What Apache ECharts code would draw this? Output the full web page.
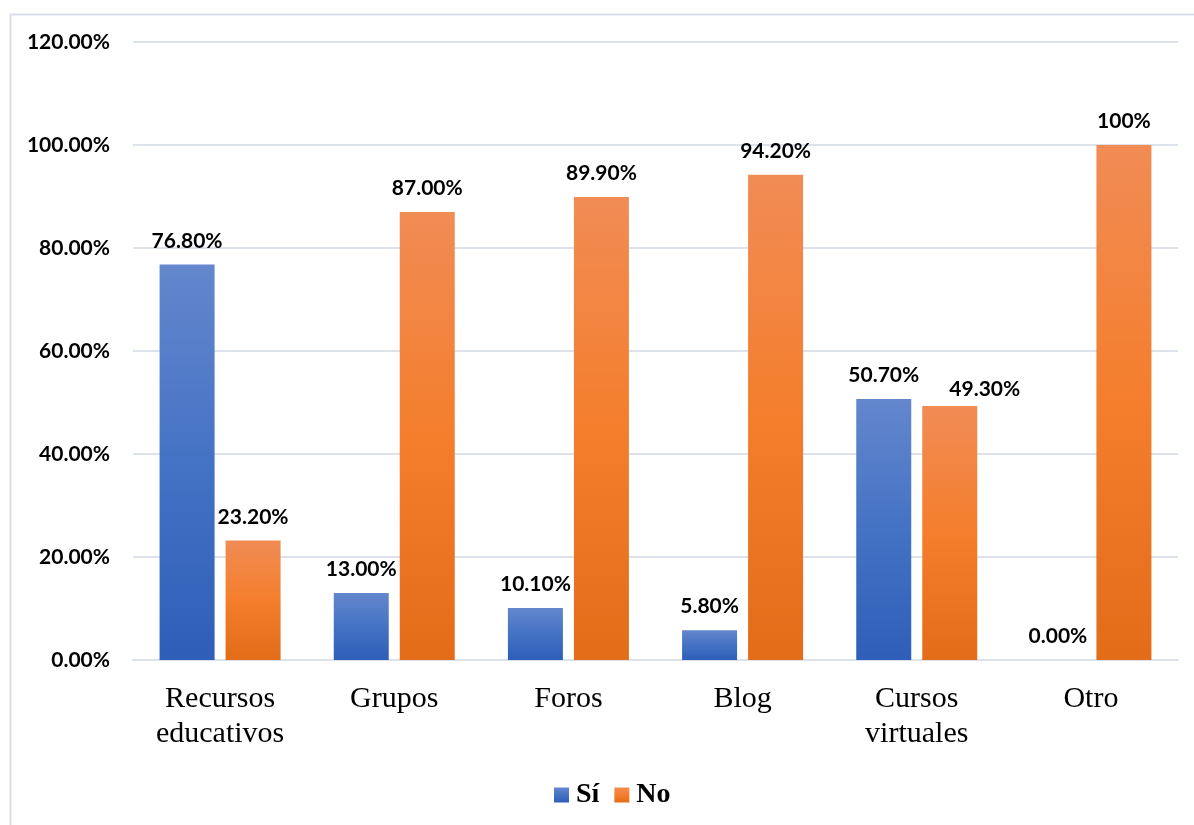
<!DOCTYPE html>
<html>
<head>
<meta charset="utf-8">
<title>Uso de recursos</title>
<script src="https://cdn.jsdelivr.net/npm/echarts@6/dist/echarts.min.js"></script>
<style>
  html, body { margin: 0; padding: 0; background: #ffffff; }
  #chart { width: 1194px; height: 825px; }
</style>
</head>
<body>
<div id="chart"></div>
<script>
// Categories and series values (percent)
const categories = ['Recursos\neducativos', 'Grupos', 'Foros', 'Blog', 'Cursos\nvirtuales', 'Otro'];
const siValues = [76.8, 13.0, 10.1, 5.8, 50.7, 0.0];
const noValues = [23.2, 87.0, 89.9, 94.2, 49.3, 100];
const yTicks = { min: 0, max: 120, interval: 20 };

const grad = (top, mid, bottom) => new echarts.graphic.LinearGradient(0, 0, 0, 1, [
  { offset: 0, color: top },
  { offset: 0.5, color: mid },
  { offset: 1, color: bottom }
]);

const pctLabel = p => (p.value === 100 ? '100%' : p.value.toFixed(2) + '%');

const labelStyle = {
  show: true,
  position: 'top',
  distance: 13,
  formatter: pctLabel,
  fontFamily: 'Lato, "Liberation Sans", sans-serif',
  fontWeight: 'bold',
  fontSize: 21,
  color: '#000000'
};

// The "No" label of "Cursos virtuales" is nudged aside so it clears its neighbour
const noData = noValues.map((v, i) => (i === 4 ? { value: v, label: { offset: [35, 7] } } : v));

const chart = echarts.init(document.getElementById('chart'), null, { renderer: 'canvas' });
chart.setOption({
  animation: false,
  backgroundColor: '#ffffff',
  graphic: [{
    type: 'rect',
    left: 8, top: 12,
    shape: { width: 1220, height: 830 },
    style: { fill: 'none', stroke: '#D9DEE8', lineWidth: 2 },
    silent: true
  }],
  grid: { left: 133, right: 16, top: 42, bottom: 165, containLabel: false },
  legend: {
    data: ['Sí', 'No'],
    left: 554, top: 781,
    padding: 0,
    itemWidth: 15, itemHeight: 15, itemGap: 15,
    icon: 'rect',
    textStyle: {
      fontFamily: '"Liberation Serif", "Times New Roman", serif',
      fontWeight: 'bold', fontSize: 28, color: '#000000', padding: [0, 0, 0, 2]
    }
  },
  xAxis: {
    type: 'category',
    data: categories,
    axisLine: { show: true, lineStyle: { color: '#DCE1EA', width: 2 } },
    axisTick: { show: false },
    axisLabel: {
      margin: 22,
      fontFamily: '"Liberation Serif", "Times New Roman", serif',
      fontSize: 30, lineHeight: 35, color: '#000000'
    }
  },
  yAxis: {
    type: 'value',
    min: yTicks.min, max: yTicks.max, interval: yTicks.interval,
    axisLine: { show: false },
    axisTick: { show: false },
    splitLine: { lineStyle: { color: '#DCE1EA', width: 2 } },
    axisLabel: {
      margin: 23,
      formatter: v => v.toFixed(2) + '%',
      fontFamily: 'Lato, "Liberation Sans", sans-serif',
      fontWeight: 'bold', fontSize: 21, color: '#000000'
    }
  },
  series: [
    {
      name: 'Sí', type: 'bar', data: siValues,
      barWidth: 55, barGap: '20%',
      itemStyle: { color: grad('#6487CD', '#4472C4', '#2E5EB8') },
      label: labelStyle
    },
    {
      name: 'No', type: 'bar', data: noData,
      barWidth: 55,
      itemStyle: { color: grad('#F18C55', '#F47E2C', '#E36C19') },
      label: labelStyle
    }
  ]
});
</script>
</body>
</html>
